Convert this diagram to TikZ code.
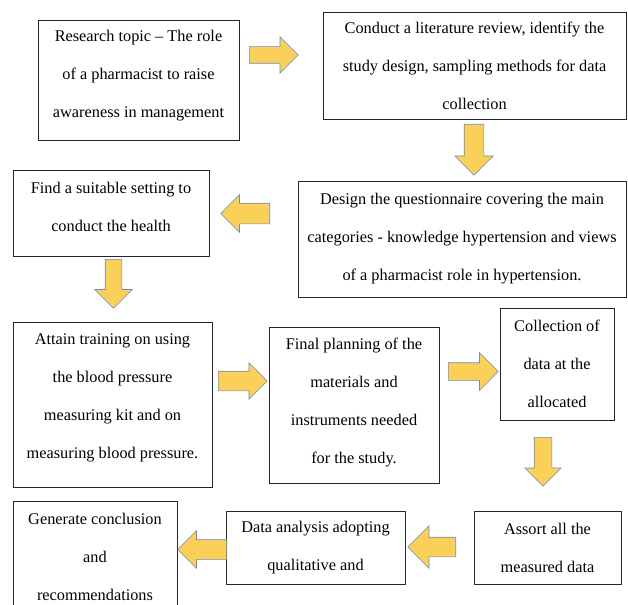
\documentclass[tikz,border=0pt]{standalone}
\usepackage{fontspec}
\setmainfont{Liberation Serif}
\usetikzlibrary{shapes.arrows}
\definecolor{arrowfill}{RGB}{250,208,88}
\definecolor{arrowline}{RGB}{110,140,185}
\tikzset{
    stagebox/.style={draw=black!85, line width=0.8pt, inner sep=0pt, align=center,
        font=\fontsize{16.3}{38}\selectfont},
    flowarrow/.style={single arrow, draw=arrowline, fill=arrowfill, line width=0.6pt,
        inner xsep=0pt, anchor=tail},
}

\begin{document}
\begin{tikzpicture}[x=1pt, y=-1pt]
    \useasboundingbox (0,0) rectangle (628,604);
    \clip (0,0) rectangle (628,604);

    % stages, read left to right and back
    \node[stagebox, minimum width=201pt, minimum height=120pt, text depth=11.5pt] (topic) at (138.5,80)
        {Research topic -- The role\\of a pharmacist to raise\\awareness in management};
    \node[stagebox, minimum width=303pt, minimum height=107pt] (review) at (474.5,65.5)
        {Conduct a literature review, identify the\\study design, sampling methods for data\\collection};
    \node[stagebox, minimum width=328pt, minimum height=116pt] (questionnaire) at (462,239)
        {Design the questionnaire covering the main\\categories - knowledge hypertension and views\\of a pharmacist role in hypertension.};
    \node[stagebox, minimum width=196pt, minimum height=86pt, text depth=13pt] (setting) at (111,213)
        {Find a suitable setting to\\conduct the health};
    \node[stagebox, minimum width=199pt, minimum height=165pt, text depth=17.5pt] (training) at (112.5,404.5)
        {Attain training on using\\the blood pressure\\measuring kit and on\\measuring blood pressure.};
    \node[stagebox, minimum width=170pt, minimum height=156pt, text depth=7.5pt] (planning) at (354,405)
        {Final planning of the\\materials and\\instruments needed\\for the study.};
    \node[stagebox, minimum width=114pt, minimum height=112pt] (collection) at (557,364)
        {Collection of\\data at the\\allocated};
    \node[stagebox, minimum width=147pt, minimum height=73pt] (assort) at (547.5,547.5)
        {Assort all the\\measured data};
    \node[stagebox, minimum width=179pt, minimum height=73pt] (analysis) at (315.5,547.5)
        {Data analysis adopting\\qualitative and};
    \node[stagebox, minimum width=164pt, minimum height=111pt] (conclusion) at (95,556.5)
        {Generate conclusion\\and\\recommendations};

    % block arrows, placed by their tails; inner ysep is half the shaft
    \node[flowarrow, minimum height=49pt, inner ysep=8pt, single arrow head extend=10pt] (toReview) at (249,55) {};
    \node[flowarrow, minimum height=51pt, inner ysep=9.5pt, single arrow head extend=9.5pt, rotate=-90] (toQuestionnaire) at (474,124) {};
    \node[flowarrow, minimum height=49pt, inner ysep=10pt, single arrow head extend=8.5pt, rotate=180] (toSetting) at (270,213.5) {};
    \node[flowarrow, minimum height=49pt, inner ysep=8pt, single arrow head extend=10.5pt, rotate=-90] (toTraining) at (113.5,259) {};
    \node[flowarrow, minimum height=49pt, inner ysep=9.5pt, single arrow head extend=8.5pt] (toPlanning) at (218,381) {};
    \node[flowarrow, minimum height=50pt, inner ysep=8.5pt, single arrow head extend=10pt] (toCollection) at (448,371.5) {};
    \node[flowarrow, minimum height=49pt, inner ysep=8.5pt, single arrow head extend=9.5pt, rotate=-90] (toAssort) at (543,437) {};
    \node[flowarrow, minimum height=48pt, inner ysep=9.5pt, single arrow head extend=11.5pt, rotate=180] (toAnalysis) at (456,547) {};
    \node[flowarrow, minimum height=49pt, inner ysep=9.5pt, single arrow head extend=9pt, rotate=180] (toConclusion) at (227,549.5) {};
\end{tikzpicture}
\end{document}
